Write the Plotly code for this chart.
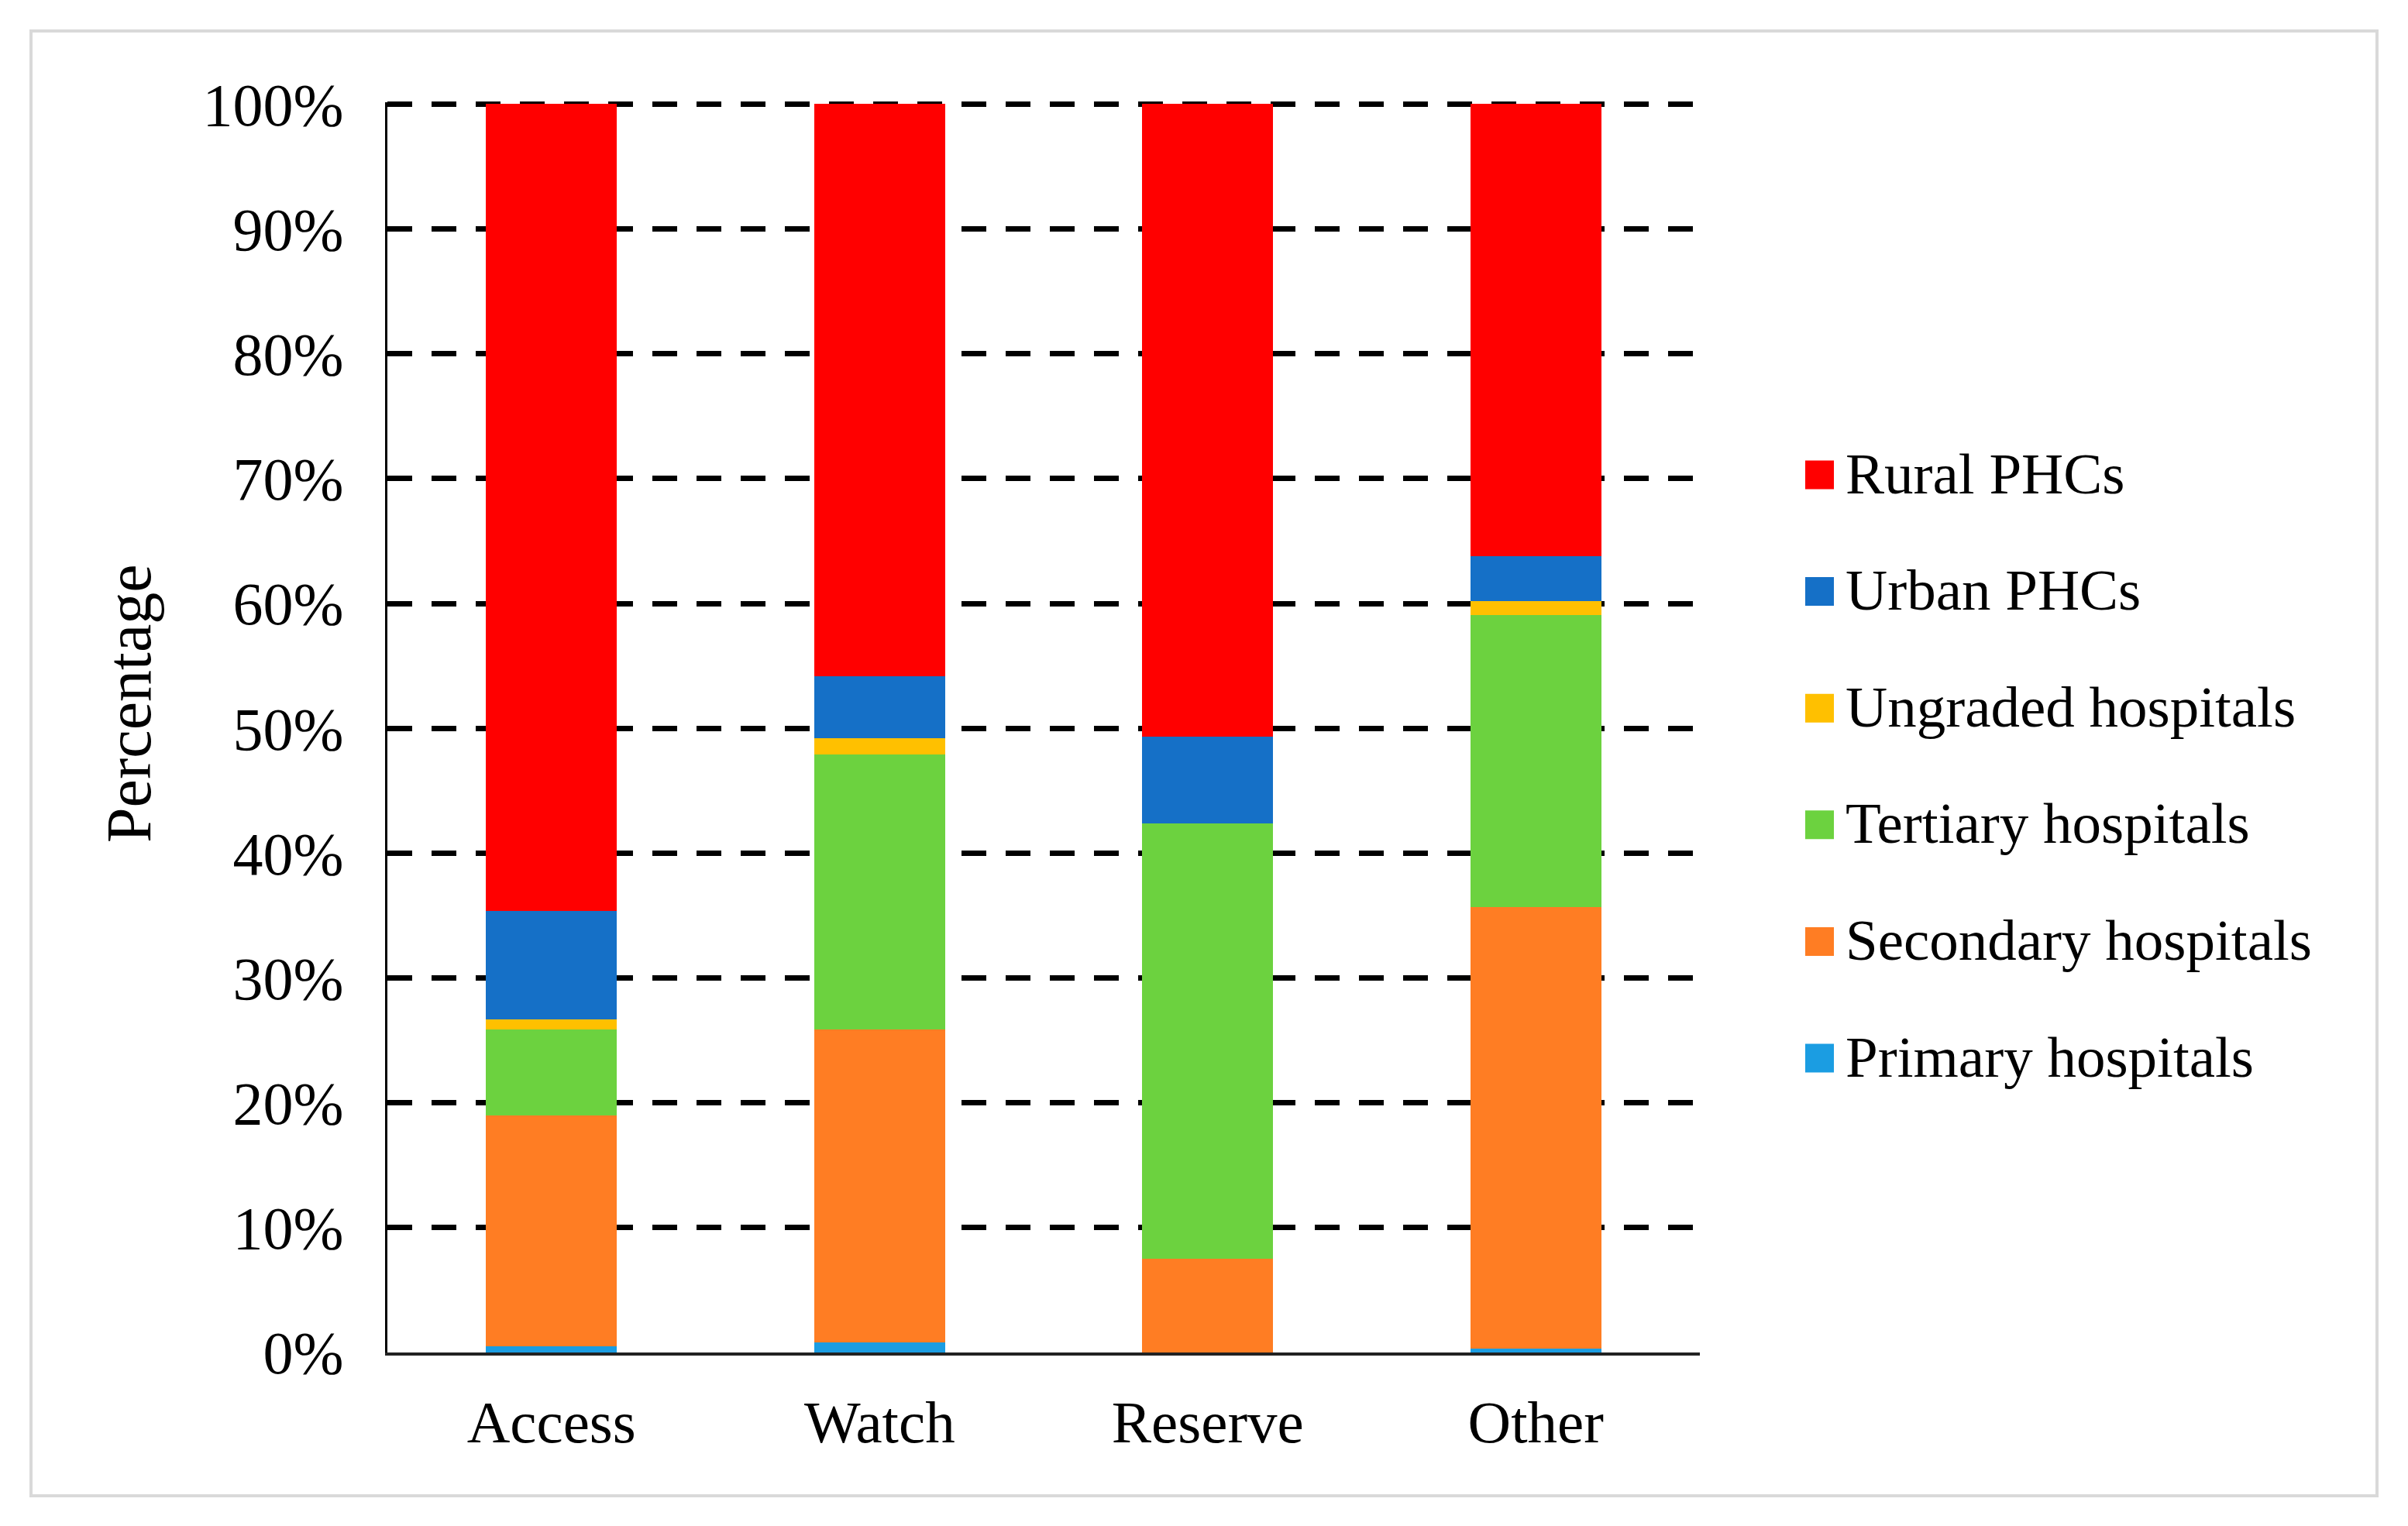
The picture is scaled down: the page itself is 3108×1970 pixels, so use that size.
import plotly.graph_objects as go

categories = ["Access", "Watch", "Reserve", "Other"]

primary_hospitals = [0.5, 0.8, 0.0, 0.3]
secondary_hospitals = [18.5, 25.1, 7.5, 35.4]
tertiary_hospitals = [6.9, 22.0, 34.9, 23.4]
ungraded_hospitals = [0.8, 1.3, 0.0, 1.1]
urban_phcs = [8.7, 5.0, 6.9, 3.6]
rural_phcs = [64.6, 45.8, 50.7, 36.2]

series_names = ["Primary hospitals", "Secondary hospitals", "Tertiary hospitals",
                "Ungraded hospitals", "Urban PHCs", "Rural PHCs"]
series_values = [primary_hospitals, secondary_hospitals, tertiary_hospitals,
                 ungraded_hospitals, urban_phcs, rural_phcs]
series_colors = ["#1B9DE2", "#FF7D23", "#6CD23F", "#FFC000", "#1570C7", "#FF0000"]

tick_values = list(range(0, 101, 10))
tick_labels = [f"{v}%" for v in tick_values]

FONT = "Liberation Serif, Times New Roman, serif"
W, H = 3108, 1970
L, R, T, B = 500, 2194, 132, 1746


def px_x(px):
    return (px - L) / (R - L)


def px_y(py):
    return (B - py) / (B - T)


fig = go.Figure()
for name, vals, col in zip(series_names, series_values, series_colors):
    fig.add_trace(go.Bar(x=categories, y=vals, name=name, marker_color=col,
                         marker_line_width=0, showlegend=False))

# manual legend (top to bottom: Rural ... Primary)
shapes = [dict(type="rect", xref="paper", yref="paper",
               x0=px_x(40), x1=px_x(3068), y0=px_y(1931), y1=px_y(40),
               line=dict(color="#d9d9d9", width=4), fillcolor="rgba(0,0,0,0)",
               layer="below")]
annotations = [dict(text="Percentage", xref="paper", yref="paper",
                    x=px_x(166), y=px_y(908), xanchor="center", yanchor="middle",
                    textangle=-90, showarrow=False,
                    font=dict(family=FONT, size=82, color="black"))]
legend_items = list(reversed(list(zip(series_names, series_colors))))
for i, (name, col) in enumerate(legend_items):
    cy = 613 + i * 150.6
    shapes.append(dict(type="rect", xref="paper", yref="paper",
                       x0=px_x(2330), x1=px_x(2367), y0=px_y(cy + 18.5), y1=px_y(cy - 18.5),
                       line=dict(width=0), fillcolor=col))
    annotations.append(dict(text=name, xref="paper", yref="paper",
                            x=px_x(2380), y=px_y(cy - 2), xanchor="left", yanchor="middle",
                            showarrow=False,
                            font=dict(family=FONT, size=75, color="black")))

fig.update_layout(
    width=W, height=H,
    margin=dict(l=L, r=W - R, t=T, b=H - B, pad=0),
    barmode="stack", bargap=0.6,
    plot_bgcolor="white", paper_bgcolor="white",
    font=dict(family=FONT, size=76, color="black"),
    showlegend=False,
    xaxis=dict(showline=True, linecolor="#222", linewidth=4, showgrid=False,
               ticks="", tickfont=dict(family=FONT, size=77, color="black"),
               ticklabelstandoff=20),
    yaxis=dict(range=[0, 100.15], tickvals=tick_values, ticktext=tick_labels,
               showline=True, linecolor="black", linewidth=3,
               showgrid=True, gridcolor="black", gridwidth=7, griddash="32px,25px",
               zeroline=False, ticks="",
               tickfont=dict(family=FONT, size=78, color="black"),
               ticklabelstandoff=38),
    shapes=shapes,
    annotations=annotations,
)

fig.write_html("out.html", config={"displayModeBar": False},
               post_script="document.body.style.margin='0';")
